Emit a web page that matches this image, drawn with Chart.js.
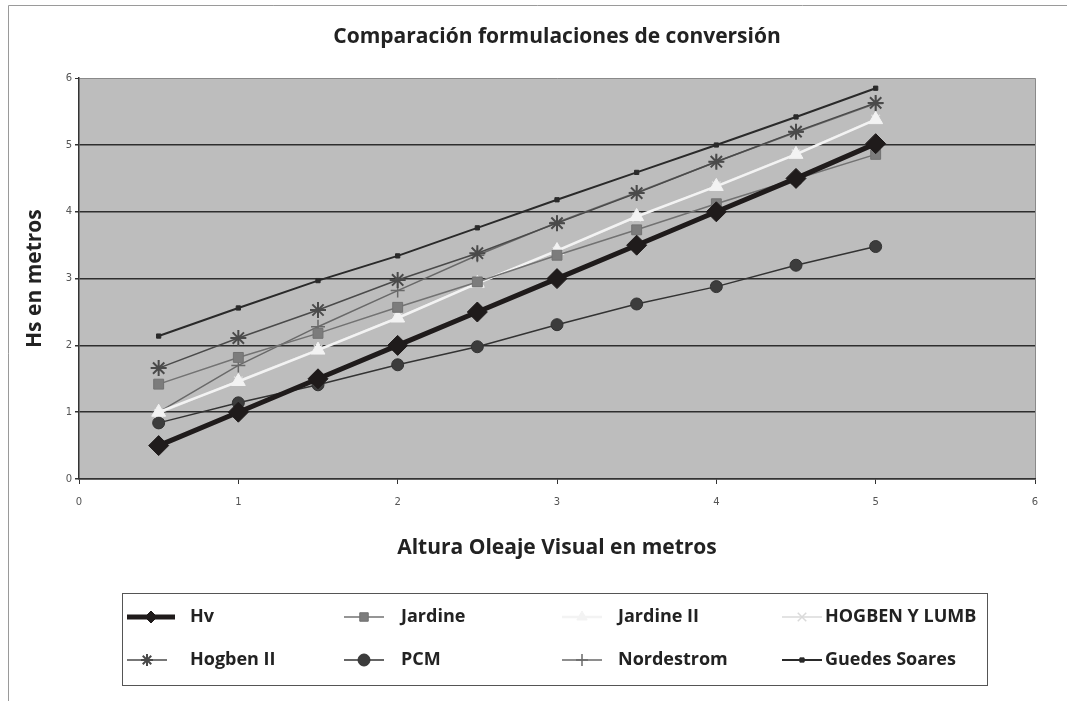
<html>
	<head>
		<meta name="viewport" content="width=device-width, initial-scale=1">
		<style>
			html, body { margin: 0; padding: 0; background: #fff; }
			#wrap { width: 1069px; height: 701px; }
		</style>
	</head>
	<body>
		<div id="wrap"><canvas id="myChart" width="1069" height="701"></canvas></div>
		<script src="https://cdn.jsdelivr.net/npm/chart.js@4/dist/chart.umd.min.js"></script>
		<script>
			// altura visual (m) - eje x
			const hvX = [0.5, 1, 1.5, 2, 2.5, 3, 3.5, 4, 4.5, 5];

			// Hs estimada por cada formulación (m)
			const sHv = [0.5, 1, 1.5, 2, 2.5, 3, 3.5, 4, 4.5, 5.02];
			const sJardine = [1.42, 1.82, 2.18, 2.57, 2.95, 3.35, 3.73, 4.12, 4.49, 4.86];
			const sJardine2 = [1.0, 1.46, 1.93, 2.41, 2.93, 3.42, 3.93, 4.38, 4.86, 5.38];
			const sHogbenLumb = [0.98, 1.47, 1.94, 2.42, 2.93, 3.41, 3.92, 4.39, 4.87, 5.39];
			const sHogben2 = [1.66, 2.11, 2.53, 2.98, 3.38, 3.83, 4.28, 4.75, 5.2, 5.63];
			const sPCM = [0.84, 1.14, 1.41, 1.71, 1.98, 2.31, 2.62, 2.88, 3.2, 3.48];
			const sNordestrom = [1.0, 1.7, 2.28, 2.82, 3.35, 3.84, 4.29, 4.75, 5.19, 5.62];
			const sGuedes = [2.14, 2.56, 2.97, 3.34, 3.76, 4.18, 4.59, 5.0, 5.42, 5.85];

			const seriesNames = ['Hv', 'Jardine', 'Jardine II', 'HOGBEN Y LUMB', 'Hogben II', 'PCM', 'Nordestrom', 'Guedes Soares'];
			const seriesValues = [sHv, sJardine, sJardine2, sHogbenLumb, sHogben2, sPCM, sNordestrom, sGuedes];
			const yTicks = [0, 1, 2, 3, 4, 5, 6];
			const xTicks = [0, 1, 2, 3, 4, 5, 6];

			const styles = [
				{ c: '#1f1b1b', w: 5, ps: 'rectRot', r: 10, bw: 1 },
				{ c: '#727272', w: 1.5, ps: 'rect', r: 7, bw: 1, f: '#7c7c7c' },
				{ c: '#f3f3f3', w: 2.5, ps: 'triangle', r: 8, bw: 1 },
				{ c: '#dadada', w: 1.5, ps: 'crossRot', r: 6, bw: 1.5 },
				{ c: '#4a4a4a', w: 1.5, ps: 'star', r: 8, bw: 2 },
				{ c: '#333333', w: 1.5, ps: 'circle', r: 6, bw: 1, f: '#3c3c3c' },
				{ c: '#696969', w: 1.5, ps: 'cross', r: 7, bw: 1.5 },
				{ c: '#2a2a2a', w: 2, ps: 'rect', r: 3, bw: 1 }
			];

			const datasets = seriesNames.map((name, i) => ({
				label: name,
				data: seriesValues[i].map((v, k) => ({ x: hvX[k], y: v })),
				borderColor: styles[i].c,
				backgroundColor: styles[i].f || styles[i].c,
				borderWidth: styles[i].w,
				pointStyle: styles[i].ps,
				pointRadius: styles[i].r,
				pointBorderWidth: styles[i].bw,
				pointBorderColor: styles[i].c,
				pointBackgroundColor: styles[i].f || styles[i].c,
				tension: 0
			}));

			const plotBg = {
				id: 'plotBg',
				afterLayout(chart) {
					// el título va centrado sobre el área del gráfico
					const t = chart.titleBlock;
					if (t) {
						t.left = chart.chartArea.left;
						t.right = chart.chartArea.right;
						t.width = t.right - t.left;
					}
				},
				beforeDraw(chart) {
					const { ctx, chartArea: a } = chart;
					ctx.save();
					ctx.fillStyle = '#bdbdbd';
					ctx.fillRect(a.left, a.top, a.right - a.left, a.bottom - a.top);
					// marco de la figura
					ctx.strokeStyle = '#9a9a9a';
					ctx.lineWidth = 1;
					ctx.beginPath();
					ctx.moveTo(8.5, 701);
					ctx.lineTo(8.5, 5.5);
					ctx.lineTo(1067, 5.5);
					ctx.stroke();
					ctx.restore();
				}
			};

			// leyenda en cuadrícula 4 x 2, como en la figura
			const gridLegend = {
				id: 'gridLegend',
				afterDraw(chart) {
					const ctx = chart.ctx;
					const box = { x: 122, y: 593, w: 865, h: 92 };
					const rows = [617, 660];
					const sampleX = [127, 344, 562, 782];
					const textX = [190, 401, 618, 825];
					ctx.save();
					ctx.strokeStyle = '#555';
					ctx.lineWidth = 1;
					ctx.strokeRect(box.x + 0.5, box.y + 0.5, box.w, box.h);
					chart.data.datasets.forEach((ds, i) => {
						const y = rows[Math.floor(i / 4)];
						const x0 = sampleX[i % 4];
						const len = i === 0 ? 48 : 40;
						ctx.strokeStyle = ds.borderColor;
						ctx.lineWidth = ds.borderWidth;
						ctx.beginPath();
						ctx.moveTo(x0, y);
						ctx.lineTo(x0 + len, y);
						ctx.stroke();
						ctx.fillStyle = ds.pointBackgroundColor;
						ctx.strokeStyle = ds.pointBorderColor;
						ctx.lineWidth = ds.pointBorderWidth;
						Chart.helpers.drawPoint(ctx, {
							pointStyle: ds.pointStyle,
							radius: Math.min(ds.pointRadius, 6),
							rotation: 0,
							borderWidth: ds.pointBorderWidth
						}, x0 + len / 2, y);
						ctx.fillStyle = '#222';
						ctx.font = 'bold 18px "Open Sans"';
						ctx.textBaseline = 'middle';
						ctx.textAlign = 'left';
						ctx.fillText(ds.label, textX[i % 4], y);
					});
					ctx.restore();
				}
			};

			const ctx = document.getElementById('myChart');
			new Chart(ctx, {
				type: 'line',
				data: { datasets: datasets },
				plugins: [plotBg, gridLegend],
				options: {
					responsive: false,
					animation: false,
					layout: { padding: { left: 0, right: 34, top: 0, bottom: 136 } },
					plugins: {
						legend: { display: false },
						tooltip: { enabled: false },
						title: {
							display: true,
							text: 'Comparación formulaciones de conversión',
							color: '#222',
							font: { family: '"Open Sans"', size: 21, weight: 'bold' },
							padding: { top: 24, bottom: 29 }
						}
					},
					scales: {
						x: {
							type: 'linear',
							min: 0,
							max: 6,
							afterBuildTicks: s => { s.ticks = xTicks.map(v => ({ value: v })); },
							afterFit: s => { s.height = 86; },
							ticks: { color: '#555', font: { family: 'DejaVu Sans', size: 10 }, padding: 12 },
							grid: {
								drawOnChartArea: true,
								color: c => c.tick && c.tick.value === 6 ? '#8a8a8a' : 'rgba(0,0,0,0)',
								tickColor: '#333',
								tickLength: 5
							},
							border: { color: '#333', width: 1.5 },
							title: {
								display: true,
								text: 'Altura Oleaje Visual en metros',
								color: '#222',
								font: { family: '"Open Sans"', size: 21, weight: 'bold' },
								padding: { top: 4, bottom: 4 }
							}
						},
						y: {
							min: 0,
							max: 6,
							afterBuildTicks: s => { s.ticks = yTicks.map(v => ({ value: v })); },
							afterFit: s => { s.width = 79; },
							ticks: { color: '#555', font: { family: 'DejaVu Sans', size: 10 }, padding: 3 },
							grid: {
								color: c => c.tick && c.tick.value === 6 ? '#8a8a8a' : '#2e2e2e',
								lineWidth: c => c.tick && c.tick.value === 6 ? 1 : 1.5,
								tickColor: '#333',
								tickLength: 4
							},
							border: { color: '#333', width: 1.5 },
							title: {
								display: true,
								text: 'Hs en metros',
								color: '#222',
								font: { family: '"Open Sans"', size: 21, weight: 'bold' },
								padding: { top: 22, bottom: 4 }
							}
						}
					}
				}
			});
		</script>
	</body>
</html>
